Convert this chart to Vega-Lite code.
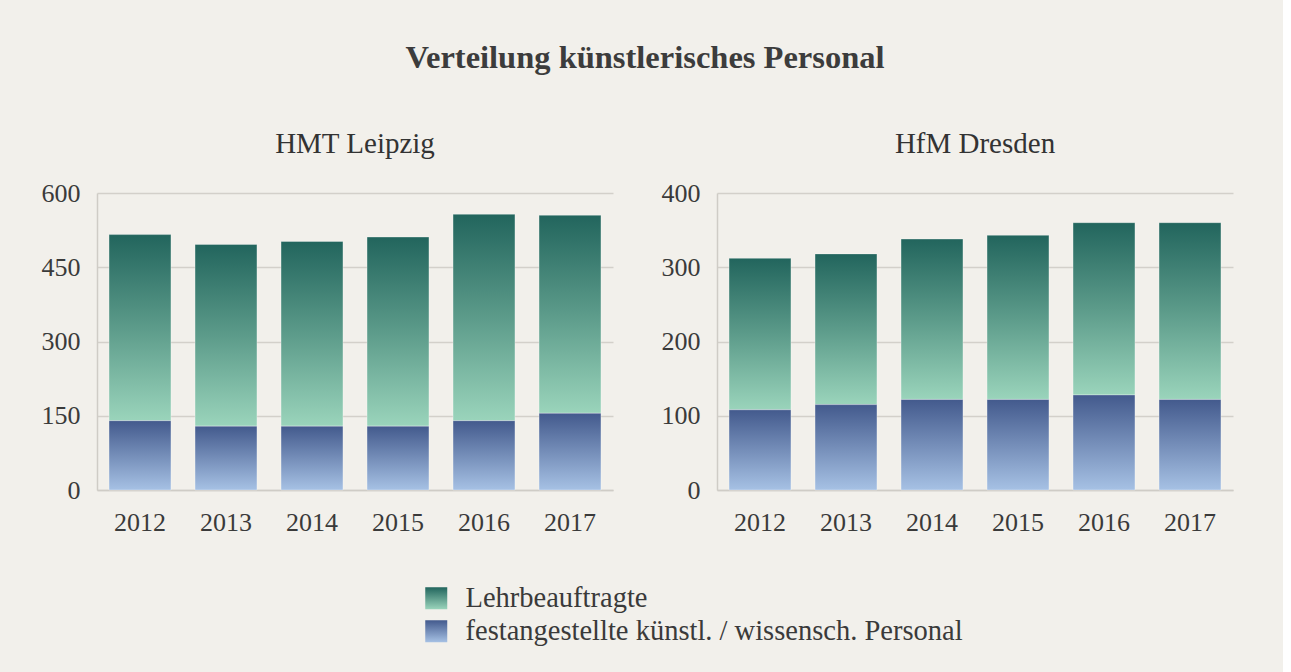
{
  "$schema": "https://vega.github.io/schema/vega-lite/v6.json",
  "background": "#f2f0eb",
  "padding": {"left": 41, "top": 41, "right": 50, "bottom": 26},
  "title": {
    "text": "Verteilung künstlerisches Personal",
    "font": "Liberation Serif",
    "fontSize": 32.5,
    "fontWeight": "bold",
    "color": "#3c3c3c",
    "anchor": "middle",
    "dx": 8,
    "offset": 56
  },
  "data": {
    "values": [
      {"hs": "HMT Leipzig", "jahr": "2012", "kat": "Lehrbeauftragte", "n": 376},
      {"hs": "HMT Leipzig", "jahr": "2012", "kat": "festangestellte künstl. / wissensch. Personal", "n": 140},
      {"hs": "HMT Leipzig", "jahr": "2013", "kat": "Lehrbeauftragte", "n": 367},
      {"hs": "HMT Leipzig", "jahr": "2013", "kat": "festangestellte künstl. / wissensch. Personal", "n": 129},
      {"hs": "HMT Leipzig", "jahr": "2014", "kat": "Lehrbeauftragte", "n": 373},
      {"hs": "HMT Leipzig", "jahr": "2014", "kat": "festangestellte künstl. / wissensch. Personal", "n": 129},
      {"hs": "HMT Leipzig", "jahr": "2015", "kat": "Lehrbeauftragte", "n": 382},
      {"hs": "HMT Leipzig", "jahr": "2015", "kat": "festangestellte künstl. / wissensch. Personal", "n": 129},
      {"hs": "HMT Leipzig", "jahr": "2016", "kat": "Lehrbeauftragte", "n": 417},
      {"hs": "HMT Leipzig", "jahr": "2016", "kat": "festangestellte künstl. / wissensch. Personal", "n": 140},
      {"hs": "HMT Leipzig", "jahr": "2017", "kat": "Lehrbeauftragte", "n": 400},
      {"hs": "HMT Leipzig", "jahr": "2017", "kat": "festangestellte künstl. / wissensch. Personal", "n": 155},
      {"hs": "HfM Dresden", "jahr": "2012", "kat": "Lehrbeauftragte", "n": 204},
      {"hs": "HfM Dresden", "jahr": "2012", "kat": "festangestellte künstl. / wissensch. Personal", "n": 108},
      {"hs": "HfM Dresden", "jahr": "2013", "kat": "Lehrbeauftragte", "n": 203},
      {"hs": "HfM Dresden", "jahr": "2013", "kat": "festangestellte künstl. / wissensch. Personal", "n": 115},
      {"hs": "HfM Dresden", "jahr": "2014", "kat": "Lehrbeauftragte", "n": 216},
      {"hs": "HfM Dresden", "jahr": "2014", "kat": "festangestellte künstl. / wissensch. Personal", "n": 122},
      {"hs": "HfM Dresden", "jahr": "2015", "kat": "Lehrbeauftragte", "n": 221},
      {"hs": "HfM Dresden", "jahr": "2015", "kat": "festangestellte künstl. / wissensch. Personal", "n": 122},
      {"hs": "HfM Dresden", "jahr": "2016", "kat": "Lehrbeauftragte", "n": 232},
      {"hs": "HfM Dresden", "jahr": "2016", "kat": "festangestellte künstl. / wissensch. Personal", "n": 128},
      {"hs": "HfM Dresden", "jahr": "2017", "kat": "Lehrbeauftragte", "n": 238},
      {"hs": "HfM Dresden", "jahr": "2017", "kat": "festangestellte künstl. / wissensch. Personal", "n": 122}
    ]
  },
  "spacing": 104,
  "bounds": "flush",
  "hconcat": [
    {
      "width": 516,
      "height": 297,
      "title": {"text": "HMT Leipzig", "font": "Liberation Serif", "fontSize": 29, "fontWeight": "normal", "color": "#333333", "offset": 21},
      "transform": [{"filter": "datum.hs === 'HMT Leipzig'"}],
      "layer": [
        {
          "mark": {"type": "bar", "stroke": "#ffffff", "strokeOpacity": 0.3, "strokeWidth": 1,
                   "fill": {"expr": "datum.kat === 'Lehrbeauftragte' ? {gradient: 'linear', x1: 0, y1: 0, x2: 0, y2: 1, stops: [{offset: 0, color: '#22655d'}, {offset: 0.5, color: '#5c9b8a'}, {offset: 1, color: '#9ad4bb'}]} : {gradient: 'linear', x1: 0, y1: 0, x2: 0, y2: 1, stops: [{offset: 0, color: '#435a8d'}, {offset: 1, color: '#a6c1e4'}]}"}},
          "encoding": {
            "x": {"field": "jahr", "type": "nominal", "scale": {"paddingInner": 0.28, "paddingOuter": 0.14},
                  "axis": {"title": null, "labelAngle": 0, "ticks": false, "labelPadding": 19, "labelFont": "Liberation Serif", "labelFontSize": 26, "labelColor": "#3a3a3a", "domainColor": "#cfccc6", "domainWidth": 1.5}},
            "y": {"field": "n", "type": "quantitative", "aggregate": "sum", "stack": "zero", "scale": {"domain": [0, 600], "nice": false},
                  "axis": {"title": null, "values": [0, 150, 300, 450, 600], "ticks": false, "labelPadding": 17, "labelFont": "Liberation Serif", "labelFontSize": 26, "labelColor": "#3a3a3a", "domainColor": "#cfccc6", "domainWidth": 1.5, "gridColor": "#d3d0ca", "gridWidth": 1.5}},
            "detail": {"field": "kat"},
            "order": {"field": "kat", "sort": "descending"}
          }
        },
        {
          "transform": [{"filter": "false"}],
          "mark": {"type": "point", "filled": true, "opacity": 1,
                   "fill": {"expr": "(datum.kat || datum.value) === 'Lehrbeauftragte' ? {gradient: 'linear', x1: 0, y1: 0, x2: 0, y2: 1, stops: [{offset: 0, color: '#22655d'}, {offset: 1, color: '#9ad4bb'}]} : {gradient: 'linear', x1: 0, y1: 0, x2: 0, y2: 1, stops: [{offset: 0, color: '#435a8d'}, {offset: 1, color: '#a6c1e4'}]}"}},
          "encoding": {
            "x": {"field": "jahr", "type": "nominal"},
            "y": {"field": "n", "type": "quantitative"},
            "shape": {"field": "kat", "type": "nominal",
                      "scale": {"domain": ["Lehrbeauftragte", "festangestellte künstl. / wissensch. Personal"], "range": ["square", "square"]},
                      "legend": {"orient": "none", "legendX": 325, "legendY": 391, "direction": "vertical", "title": null, "symbolSize": 484, "symbolStrokeWidth": 0, "labelFont": "Liberation Serif", "labelFontSize": 28.5, "labelColor": "#3a3a3a", "labelOffset": 15, "rowPadding": 4, "labelLimit": 800}}
          }
        }
      ]
    },
    {
      "width": 516,
      "height": 297,
      "title": {"text": "HfM Dresden", "font": "Liberation Serif", "fontSize": 29, "fontWeight": "normal", "color": "#333333", "offset": 21},
      "transform": [{"filter": "datum.hs === 'HfM Dresden'"}],
      "mark": {"type": "bar", "stroke": "#ffffff", "strokeOpacity": 0.3, "strokeWidth": 1,
               "fill": {"expr": "datum.kat === 'Lehrbeauftragte' ? {gradient: 'linear', x1: 0, y1: 0, x2: 0, y2: 1, stops: [{offset: 0, color: '#22655d'}, {offset: 0.5, color: '#5c9b8a'}, {offset: 1, color: '#9ad4bb'}]} : {gradient: 'linear', x1: 0, y1: 0, x2: 0, y2: 1, stops: [{offset: 0, color: '#435a8d'}, {offset: 1, color: '#a6c1e4'}]}"}},
      "encoding": {
        "x": {"field": "jahr", "type": "nominal", "scale": {"paddingInner": 0.28, "paddingOuter": 0.14},
              "axis": {"title": null, "labelAngle": 0, "ticks": false, "labelPadding": 19, "labelFont": "Liberation Serif", "labelFontSize": 26, "labelColor": "#3a3a3a", "domainColor": "#cfccc6", "domainWidth": 1.5}},
        "y": {"field": "n", "type": "quantitative", "aggregate": "sum", "stack": "zero", "scale": {"domain": [0, 400], "nice": false},
              "axis": {"title": null, "values": [0, 100, 200, 300, 400], "ticks": false, "labelPadding": 17, "labelFont": "Liberation Serif", "labelFontSize": 26, "labelColor": "#3a3a3a", "domainColor": "#cfccc6", "domainWidth": 1.5, "gridColor": "#d3d0ca", "gridWidth": 1.5}},
        "detail": {"field": "kat"},
        "order": {"field": "kat", "sort": "descending"}
      }
    }
  ],
  "config": {
    "view": {"stroke": null},
    "font": "Liberation Serif"
  }
}
